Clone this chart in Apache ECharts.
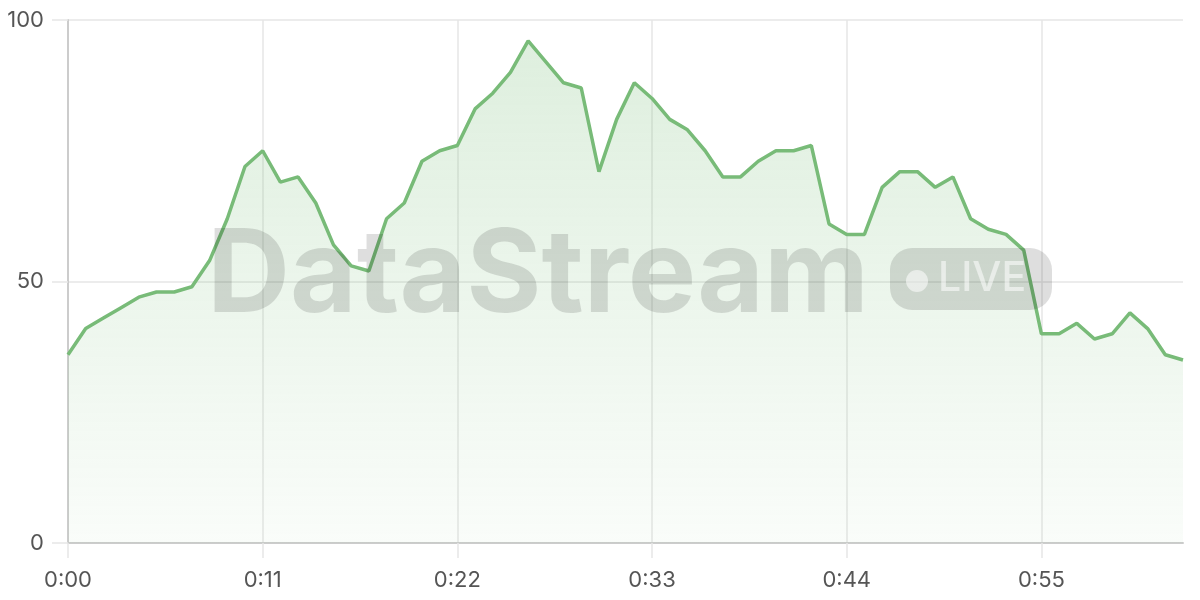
<!DOCTYPE html>
<html>
<head>
<meta charset="utf-8">
<script src="https://cdn.jsdelivr.net/npm/echarts@6/dist/echarts.min.js"></script>
<style>html,body{margin:0;padding:0;background:#fff}#c{width:1200px;height:600px}</style>
</head>
<body>
<div id="c"></div>
<script>
// seconds 0..63 shown as m:ss
const times = ['0:00','0:01','0:02','0:03','0:04','0:05','0:06','0:07','0:08','0:09',
  '0:10','0:11','0:12','0:13','0:14','0:15','0:16','0:17','0:18','0:19',
  '0:20','0:21','0:22','0:23','0:24','0:25','0:26','0:27','0:28','0:29',
  '0:30','0:31','0:32','0:33','0:34','0:35','0:36','0:37','0:38','0:39',
  '0:40','0:41','0:42','0:43','0:44','0:45','0:46','0:47','0:48','0:49',
  '0:50','0:51','0:52','0:53','0:54','0:55','0:56','0:57','0:58','0:59',
  '1:00','1:01','1:02','1:03'];
const values = [36,41,43,45,47,48,48,49,54,62,
  72,75,69,70,65,57,53,52,62,65,
  73,75,76,83,86,90,96,92,88,87,
  71,81,88,85,81,79,75,70,70,73,
  75,75,76,61,59,59,68,71,71,68,
  70,62,60,59,56,40,40,42,39,40,
  44,41,36,35];
const yTicks = [0, 50, 100];

const chart = echarts.init(document.getElementById('c'), null, {renderer: 'canvas'});
const font = 'Inter, "Noto Sans", sans-serif';
chart.setOption({
  animation: false,
  grid: {left: 68, right: 17, top: 20, bottom: 57, containLabel: false},
  xAxis: {
    type: 'category',
    data: times,
    boundaryGap: false,
    axisLine: {lineStyle: {color: '#cccccc', width: 2}},
    axisTick: {show: true, interval: 10, length: 15, lineStyle: {color: '#e6e6e6', width: 1.5}},
    axisLabel: {interval: 10, color: '#555', fontSize: 22, fontFamily: font, margin: 26},
    splitLine: {show: true, interval: 10, lineStyle: {color: '#e6e6e6', width: 1.5}}
  },
  yAxis: {
    type: 'value',
    min: yTicks[0], max: yTicks[yTicks.length - 1], interval: 50,
    axisLine: {show: true, lineStyle: {color: '#cccccc', width: 2}},
    axisTick: {show: true, length: 16, lineStyle: {color: '#e6e6e6', width: 1.5}},
    axisLabel: {color: '#555', fontSize: 22, fontFamily: font, margin: 24},
    splitLine: {show: true, lineStyle: {color: '#e6e6e6', width: 1.5}}
  },
  series: [{
    type: 'line',
    data: values,
    showSymbol: false,
    symbol: 'none',
    lineStyle: {color: '#78bb78', width: 3.5},
    areaStyle: {
      color: new echarts.graphic.LinearGradient(0, 0, 0, 1, [
        {offset: 0, color: 'rgba(124,191,124,0.36)'},
        {offset: 1, color: 'rgba(124,191,124,0.06)'}
      ])
    },
    z: 2
  }],
  graphic: [
    {type: 'text', z: 100, left: 207, top: 220,
      style: {text: 'DataStream', fill: 'rgba(0,0,0,0.13)', font: 'bold 115px Inter, "Liberation Sans", sans-serif'}},
    {type: 'rect', z: 100, shape: {x: 890, y: 248, width: 162, height: 62, r: 22},
      style: {fill: 'rgba(0,0,0,0.13)'}},
    {type: 'circle', z: 101, shape: {cx: 917, cy: 281, r: 11},
      style: {fill: 'rgba(255,255,255,0.55)'}},
    {type: 'text', z: 101, left: 938, top: 258,
      style: {text: 'LIVE', fill: 'rgba(255,255,255,0.55)', font: '500 41px Inter, "Liberation Sans", sans-serif'}}
  ]
});
</script>
</body>
</html>
